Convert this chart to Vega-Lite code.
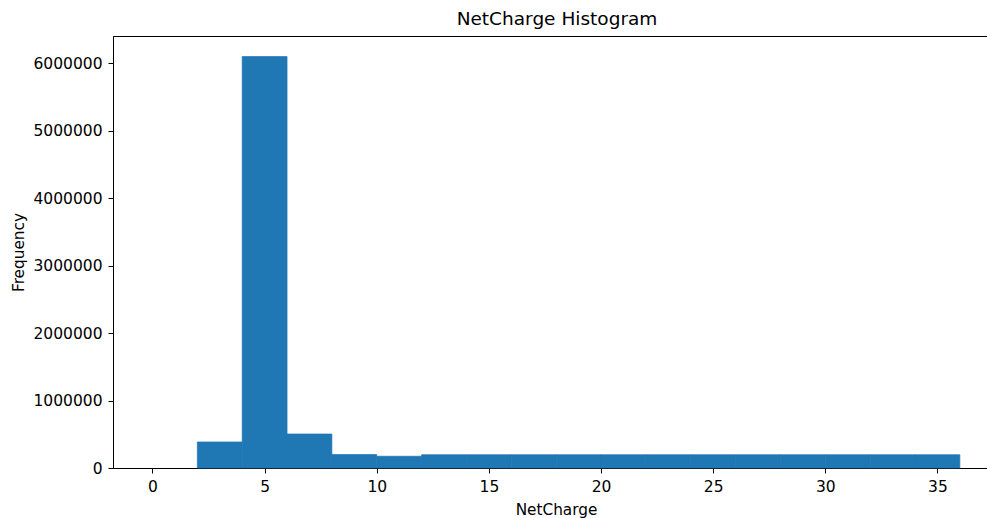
{
  "$schema": "https://vega.github.io/schema/vega-lite/v6.json",
  "autosize": {"type": "none"},
  "width": 876,
  "height": 432,
  "padding": {"left": 113, "top": 36, "right": 0, "bottom": 50},
  "background": "white",
  "title": {
    "text": "NetCharge Histogram",
    "font": "DejaVu Sans",
    "fontSize": 18.5,
    "fontWeight": "normal",
    "color": "#000000",
    "anchor": "middle",
    "offset": 8,
    "dx": 6
  },
  "config": {
    "view": {"stroke": "#000000", "strokeWidth": 1},
    "axis": {
      "grid": false,
      "domainColor": "#000000",
      "domainWidth": 1,
      "tickColor": "#000000",
      "tickSize": 5,
      "tickWidth": 1,
      "labelFont": "DejaVu Sans",
      "labelFontSize": 15.5,
      "labelColor": "#000000",
      "labelPadding": 6,
      "titleFont": "DejaVu Sans",
      "titleFontSize": 15.3,
      "titleFontWeight": "normal",
      "titleColor": "#000000"
    }
  },
  "data": {
    "values": [
      {"bin_start": 0, "bin_end": 2, "count": 0},
      {"bin_start": 2, "bin_end": 4, "count": 386000},
      {"bin_start": 4, "bin_end": 6, "count": 6100000},
      {"bin_start": 6, "bin_end": 8, "count": 504000},
      {"bin_start": 8, "bin_end": 10, "count": 199000},
      {"bin_start": 10, "bin_end": 12, "count": 174000},
      {"bin_start": 12, "bin_end": 14, "count": 197000},
      {"bin_start": 14, "bin_end": 16, "count": 197000},
      {"bin_start": 16, "bin_end": 18, "count": 197000},
      {"bin_start": 18, "bin_end": 20, "count": 197000},
      {"bin_start": 20, "bin_end": 22, "count": 197000},
      {"bin_start": 22, "bin_end": 24, "count": 197000},
      {"bin_start": 24, "bin_end": 26, "count": 197000},
      {"bin_start": 26, "bin_end": 28, "count": 197000},
      {"bin_start": 28, "bin_end": 30, "count": 197000},
      {"bin_start": 30, "bin_end": 32, "count": 197000},
      {"bin_start": 32, "bin_end": 34, "count": 197000},
      {"bin_start": 34, "bin_end": 36, "count": 197000}
    ]
  },
  "mark": {"type": "bar", "color": "#1f77b4", "stroke": "#1f77b4"},
  "encoding": {
    "x": {
      "field": "bin_start",
      "type": "quantitative",
      "scale": {"domain": [-1.76, 37.3], "nice": false, "zero": false},
      "axis": {
        "title": "NetCharge",
        "values": [0, 5, 10, 15, 20, 25, 30, 35],
        "format": "d",
        "titleX": 443,
        "titleY": 41,
        "titleBaseline": "middle"
      }
    },
    "x2": {"field": "bin_end"},
    "y": {
      "field": "count",
      "type": "quantitative",
      "scale": {"domain": [0, 6405000], "nice": false},
      "axis": {
        "title": "Frequency",
        "values": [0, 1000000, 2000000, 3000000, 4000000, 5000000, 6000000],
        "format": "d",
        "titleX": -95,
        "titleBaseline": "middle"
      }
    },
    "y2": {"datum": 0},
    "strokeWidth": {"condition": {"test": "datum.count > 0", "value": 0.7}, "value": 0}
  }
}
